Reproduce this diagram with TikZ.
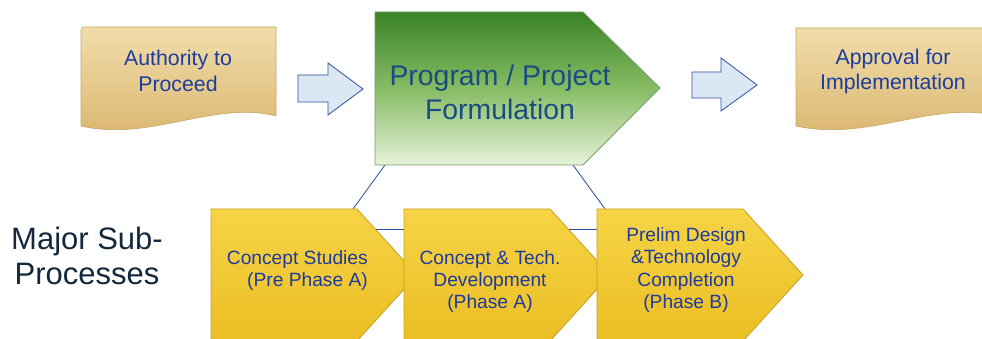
\documentclass[tikz,border=0pt]{standalone}
\usepackage{fontspec}
\setmainfont{Liberation Sans}
\begin{document}
\begin{tikzpicture}[x=1pt,y=-1pt,
  docshape/.style={top color=docTop,bottom color=docBot,draw=docEdge,line width=0.6pt},
  blockarrow/.style={fill=arrFill,draw=arrEdge,line width=0.8pt,line join=miter},
  greenshape/.style={top color=grTop,bottom color=grBot,middle color=grMid,draw=grEdge,line width=0.8pt},
  goldshape/.style={top color=goldTop,bottom color=goldBot,draw=goldEdge,line width=0.8pt},
  link/.style={draw=linkBlue,line width=0.8pt},
  doctext/.style={align=center,text=docText,font=\fontsize{21.3}{25.5}\selectfont,inner sep=0pt},
  bigtext/.style={align=center,text=pfText,font=\fontsize{28.4}{34}\selectfont,inner sep=0pt},
  boxtext/.style={text=boxText,font=\fontsize{19.2}{22.3}\selectfont,inner sep=0pt},
  sidetext/.style={align=center,text=sideText,font=\fontsize{31}{35}\selectfont,inner sep=0pt}
]
\definecolor{docTop}{HTML}{F1DDAA}
\definecolor{docBot}{HTML}{D9B56E}
\definecolor{docEdge}{HTML}{C8A868}
\definecolor{docText}{HTML}{1C3C9E}
\definecolor{arrFill}{HTML}{DCE7F4}
\definecolor{arrEdge}{HTML}{2F4F9F}
\definecolor{grTop}{HTML}{3A8226}
\definecolor{grMid}{HTML}{86BC64}
\definecolor{grBot}{HTML}{E6F2DA}
\definecolor{grEdge}{HTML}{7A9A68}
\definecolor{pfText}{HTML}{1A4C82}
\definecolor{goldTop}{HTML}{F6D445}
\definecolor{goldBot}{HTML}{EBBE24}
\definecolor{goldEdge}{HTML}{C9A024}
\definecolor{boxText}{HTML}{1C3AA0}
\definecolor{linkBlue}{HTML}{2A4A9A}
\definecolor{sideText}{HTML}{14283C}

\useasboundingbox (0,0) rectangle (982,339);
\clip (0,0) rectangle (982,339);

% connectors (behind shapes)
\coordinate (pfBL) at (385,165);
\coordinate (pfBR) at (573,165);
\coordinate (b1Top) at (353,209);
\coordinate (b3Top) at (605,209);
\coordinate (b1Mid) at (357,229);
\coordinate (b3Mid) at (600,229);
\draw[link] (pfBL) -- (b1Top);
\draw[link] (pfBR) -- (b3Top);
\draw[link] (b1Mid) -- (b3Mid);

% documents
\path[docshape] (81,31) to[rounded corners=3] (81,27) -- (276,27) -- (276,116)
  .. controls (215,100) and (150,142) .. (81,126) -- cycle;
\node[doctext] (atp) at (178,71) {Authority to\\Proceed};

\path[docshape] (796,28) -- (1000,28) -- (1000,116)
  .. controls (930,100) and (870,142) .. (796,126) -- cycle;
\node[doctext] (afi) at (893,71.5) {Approval for\\Implementation};

% block arrows
\path[blockarrow] (298,75) -- (328,75) -- (328,63) -- (363,89) -- (328,115) -- (328,102) -- (298,102) -- cycle;
\path[blockarrow] (692,72) -- (721,72) -- (721,58) -- (757,85) -- (721,111) -- (721,98) -- (692,98) -- cycle;

% green pentagon
\path[greenshape] (375,12) -- (583,12) -- (660,88) -- (583,165) -- (375,165) -- cycle;
\node[bigtext] (ppf) at (500,92) {Program / Project\\Formulation};

% gold pentagons
\path[goldshape] (211,209) -- (357,209) -- (417,275) -- (357,341) -- (211,341) -- cycle;
\path[goldshape] (404,209) -- (550,209) -- (610,275) -- (550,341) -- (404,341) -- cycle;
\path[goldshape] (597,209) -- (743,209) -- (803,275) -- (743,341) -- (597,341) -- cycle;

\node[boxtext,align=right,anchor=east] (cs) at (368,270.5) {Concept Studies\\(Pre Phase A)};
\node[boxtext,align=center] (ctd) at (490,281.5) {Concept \& Tech.\\Development\\(Phase A)};
\node[boxtext,align=center] (pdt) at (686,270) {Prelim Design\\\&Technology\\Completion\\(Phase B)};

\node[sidetext] (msp) at (87,256) {Major Sub-\\Processes};
\end{tikzpicture}
\end{document}
